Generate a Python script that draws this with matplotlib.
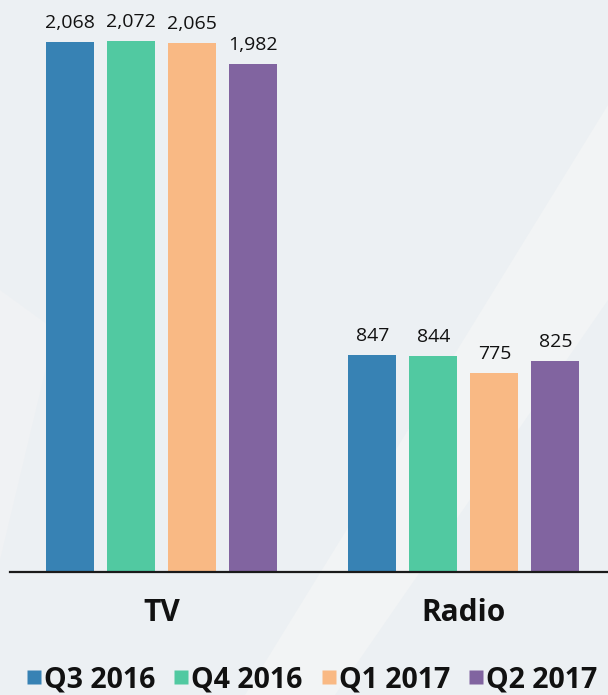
import matplotlib
matplotlib.use("Agg")
import matplotlib.pyplot as plt
from matplotlib.lines import Line2D
from matplotlib.patches import Polygon
import numpy as np

categories = ["TV", "Radio"]
series_names = ["Q3 2016", "Q4 2016", "Q1 2017", "Q2 2017"]
tv_values = [2068, 2072, 2065, 1982]
radio_values = [847, 844, 775, 825]
colors = ["#3782B4", "#51C9A1", "#F9B984", "#8164A0"]

plt.rcParams["font.family"] = ["Open Sans", "DejaVu Sans"]

W, H = 608, 695
fig = plt.figure(figsize=(W / 100, H / 100), dpi=100)
bg = "#ECF0F3"
fig.patch.set_facecolor(bg)

# background layer with soft light streaks (pixel coordinates, y downwards)
bg_ax = fig.add_axes([0, 0, 1, 1], zorder=0)
bg_ax.set_xlim(0, W)
bg_ax.set_ylim(H, 0)
bg_ax.axis("off")
streaks = [
    ([(608, 105), (608, 300), (335, 695), (245, 695)], "#F2F4F5"),
    ([(0, 290), (55, 330), (0, 560)], "#F0F2F4"),
]
for pts, col in streaks:
    bg_ax.add_patch(Polygon(pts, closed=True, facecolor=col, edgecolor="none"))

base_px = 572
ax = fig.add_axes([10 / W, (H - base_px) / H, 598 / W, base_px / H], zorder=1)
ax.set_facecolor("none")

group_sep = 302.5
bar_w = 48 / group_sep
step = 61 / group_sep
x = np.arange(len(categories))
values = np.array([tv_values, radio_values])  # rows: categories, columns: quarters

for i, name in enumerate(series_names):
    xs = x + (i - 1.5) * step
    bars = ax.bar(xs, values[:, i], width=bar_w, color=colors[i], label=name, zorder=2)
    for b, v in zip(bars, values[:, i]):
        ax.annotate(f"{v:,}", (b.get_x() + b.get_width() / 2, v), xytext=(0, 10),
                    textcoords="offset points", ha="center", va="baseline",
                    fontsize=14, color="#111111")

ax.set_xlim(-151.5 / group_sep, 1 + 144 / group_sep)
ax.set_ylim(0, base_px / 0.2563)
for s in ["top", "right", "left"]:
    ax.spines[s].set_visible(False)
ax.spines["bottom"].set_color("#1a1a1a")
ax.spines["bottom"].set_linewidth(1.6)
ax.set_yticks([])
ax.set_xticks(x)
ax.set_xticklabels(categories, fontsize=21.5, fontweight="bold", color="#111111")
ax.tick_params(axis="x", length=0, pad=19)

handles = [Line2D([], [], marker="s", linestyle="none", markersize=9.5,
                  markerfacecolor=c, markeredgecolor="none") for c in colors]
fig.legend(handles, series_names, loc="lower center", bbox_to_anchor=(0.514, -0.036),
           ncol=4, frameon=False, prop={"size": 20.5, "weight": "bold"},
           handlelength=0.45, handletextpad=0.12, columnspacing=0.7, labelcolor="#111111")

fig.savefig("out.png", dpi=100, facecolor=fig.get_facecolor())
